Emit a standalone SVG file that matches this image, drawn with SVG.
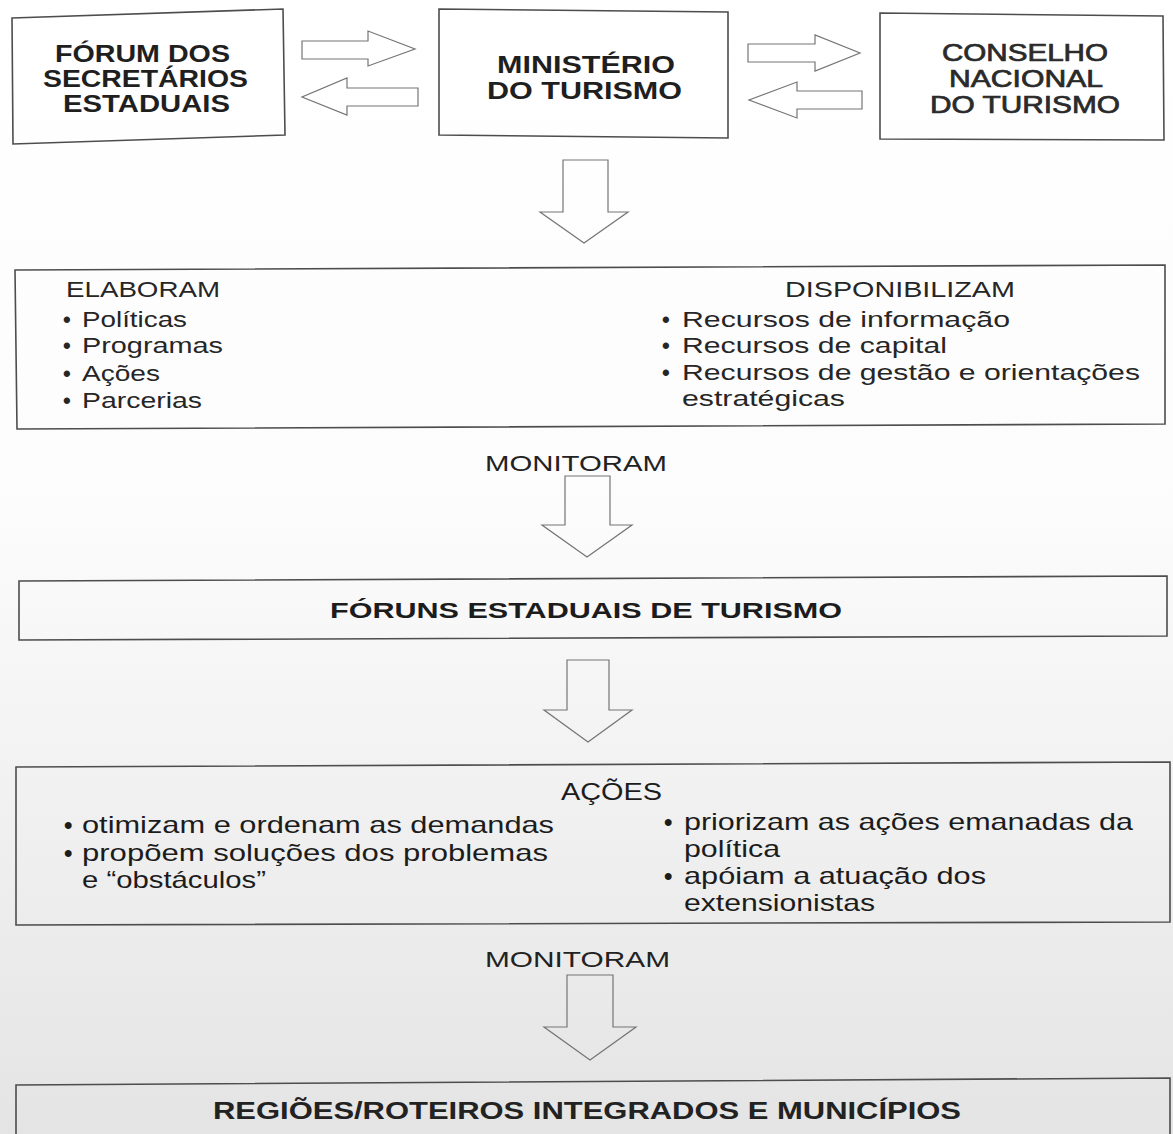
<svg xmlns="http://www.w3.org/2000/svg" width="1173" height="1134" viewBox="0 0 1173 1134">
<defs>
<linearGradient id="bg" x1="0" y1="0" x2="0" y2="1">
<stop offset="0" stop-color="#ffffff"/>
<stop offset="0.45" stop-color="#fcfcfc"/>
<stop offset="0.7" stop-color="#f1f1f1"/>
<stop offset="1" stop-color="#e4e4e4"/>
</linearGradient>
<style>
.box{fill:none;stroke:#4d4d4d;stroke-width:1.6;stroke-linejoin:miter}
.arrow{fill:none;stroke:#757575;stroke-width:1.2;stroke-linejoin:miter}
text{font-family:"Liberation Sans",Arial,Helvetica,sans-serif;fill:#1f1f1f}
.tt{font-size:23px;font-weight:bold}
.tn{font-size:23px;fill:#2a2a2a;stroke:#2a2a2a;stroke-width:0.7}
.b4{font-size:22px;fill:#262626}
.bl{font-size:22px;font-weight:bold;fill:#262626}
.mon{font-size:22px;fill:#222}
.hb{font-size:22px;font-weight:bold;fill:#1c1c1c}
.hr{font-size:23px;font-weight:bold;fill:#222}
.b6{font-size:24px;fill:#1c1c1c}
.bl6{font-size:24px;font-weight:bold;fill:#1c1c1c}
</style>
</defs>
<rect x="0" y="0" width="1173" height="1134" fill="url(#bg)"/>

<g id="connectors">
<polygon class="arrow" points="302,41 368,41 368,31 415,49 368,66 368,59 302,59"/>
<polygon class="arrow" points="418,88 347,88 347,78 302,97 347,115 347,106 418,106"/>
<polygon class="arrow" points="748,44 815,44 815,35 860,53 815,71 815,62 748,62"/>
<polygon class="arrow" points="862,91 797,91 797,82 749,100 797,118 797,109 862,109"/>
<polygon class="arrow" points="563,160 608,160 608,212 628,212 584,243 540,212 563,212"/>
<polygon class="arrow" points="565,476 610,476 610,525 632,525 587,557 542,525 565,525"/>
<polygon class="arrow" points="567,660 609,660 609,710 632,710 588,742 544,710 567,710"/>
<polygon class="arrow" points="567,975 613,975 613,1027 636,1027 590,1060 544,1027 567,1027"/>
</g>

<g id="node-forum-secretarios">
<polygon class="box" points="12,18 283,9 285,135 13,144"/>
<text class="tt" x="55" y="62" textLength="175" lengthAdjust="spacingAndGlyphs">FÓRUM DOS</text>
<text class="tt" x="43" y="87" textLength="205" lengthAdjust="spacingAndGlyphs">SECRETÁRIOS</text>
<text class="tt" x="63" y="112" textLength="167" lengthAdjust="spacingAndGlyphs">ESTADUAIS</text>
</g>

<g id="node-ministerio">
<polygon class="box" points="439,9 728,12 728,138 439,135"/>
<text class="tt" x="497" y="73" textLength="178" lengthAdjust="spacingAndGlyphs">MINISTÉRIO</text>
<text class="tt" x="487" y="99" textLength="195" lengthAdjust="spacingAndGlyphs">DO TURISMO</text>
</g>

<g id="node-conselho">
<polygon class="box" points="880,13 1163,16 1164,140 880,139"/>
<text class="tn" x="942" y="61" textLength="166" lengthAdjust="spacingAndGlyphs">CONSELHO</text>
<text class="tn" x="949" y="87" textLength="154" lengthAdjust="spacingAndGlyphs">NACIONAL</text>
<text class="tn" x="930" y="113" textLength="190" lengthAdjust="spacingAndGlyphs">DO TURISMO</text>
</g>

<g id="node-elaboram-disponibilizam">
<polygon class="box" points="15,270 1165,265 1165,424 17,429"/>
<text class="b4" x="66" y="297" textLength="154" lengthAdjust="spacingAndGlyphs">ELABORAM</text>
<text class="bl" x="63" y="327">•</text>
<text class="b4" x="82" y="327" textLength="105" lengthAdjust="spacingAndGlyphs">Políticas</text>
<text class="bl" x="63" y="353">•</text>
<text class="b4" x="82" y="353" textLength="141" lengthAdjust="spacingAndGlyphs">Programas</text>
<text class="bl" x="63" y="381">•</text>
<text class="b4" x="82" y="381" textLength="78" lengthAdjust="spacingAndGlyphs">Ações</text>
<text class="bl" x="63" y="408">•</text>
<text class="b4" x="82" y="408" textLength="120" lengthAdjust="spacingAndGlyphs">Parcerias</text>
<text class="b4" x="785" y="297" textLength="230" lengthAdjust="spacingAndGlyphs">DISPONIBILIZAM</text>
<text class="bl" x="662" y="327">•</text>
<text class="b4" x="682" y="327" textLength="328" lengthAdjust="spacingAndGlyphs">Recursos de informação</text>
<text class="bl" x="662" y="353">•</text>
<text class="b4" x="682" y="353" textLength="265" lengthAdjust="spacingAndGlyphs">Recursos de capital</text>
<text class="bl" x="662" y="380">•</text>
<text class="b4" x="682" y="380" textLength="458" lengthAdjust="spacingAndGlyphs">Recursos de gestão e orientações</text>
<text class="b4" x="682" y="406" textLength="163" lengthAdjust="spacingAndGlyphs">estratégicas</text>
</g>

<g id="label-monitoram-1">
<text class="mon" x="485" y="471" textLength="182" lengthAdjust="spacingAndGlyphs">MONITORAM</text>
</g>

<g id="node-foruns-estaduais">
<polygon class="box" points="19,581 1167,576 1167,636 19,640"/>
<text class="hb" x="330" y="618" textLength="512" lengthAdjust="spacingAndGlyphs">FÓRUNS ESTADUAIS DE TURISMO</text>
</g>

<g id="node-acoes">
<polygon class="box" points="16,767 1170,762 1170,922 16,925"/>
<text class="b6" x="561" y="800" textLength="101" lengthAdjust="spacingAndGlyphs">AÇÕES</text>
<text class="bl6" x="64" y="833">•</text>
<text class="b6" x="82" y="833" textLength="472" lengthAdjust="spacingAndGlyphs">otimizam e ordenam as demandas</text>
<text class="bl6" x="64" y="861">•</text>
<text class="b6" x="82" y="861" textLength="466" lengthAdjust="spacingAndGlyphs">propõem soluções dos problemas</text>
<text class="b6" x="82" y="888" textLength="184" lengthAdjust="spacingAndGlyphs">e “obstáculos”</text>
<text class="bl6" x="664" y="830">•</text>
<text class="b6" x="684" y="830" textLength="449" lengthAdjust="spacingAndGlyphs">priorizam as ações emanadas da</text>
<text class="b6" x="684" y="857" textLength="96" lengthAdjust="spacingAndGlyphs">política</text>
<text class="bl6" x="664" y="884">•</text>
<text class="b6" x="684" y="884" textLength="302" lengthAdjust="spacingAndGlyphs">apóiam a atuação dos</text>
<text class="b6" x="684" y="911" textLength="191" lengthAdjust="spacingAndGlyphs">extensionistas</text>
</g>

<g id="label-monitoram-2">
<text class="mon" x="485" y="967" textLength="185" lengthAdjust="spacingAndGlyphs">MONITORAM</text>
</g>

<g id="node-regioes">
<polyline class="box" points="16,1140 16,1085 1170,1078 1170,1140"/>
<text class="hr" x="213" y="1119" textLength="748" lengthAdjust="spacingAndGlyphs">REGIÕES/ROTEIROS INTEGRADOS E MUNICÍPIOS</text>
</g>
</svg>
